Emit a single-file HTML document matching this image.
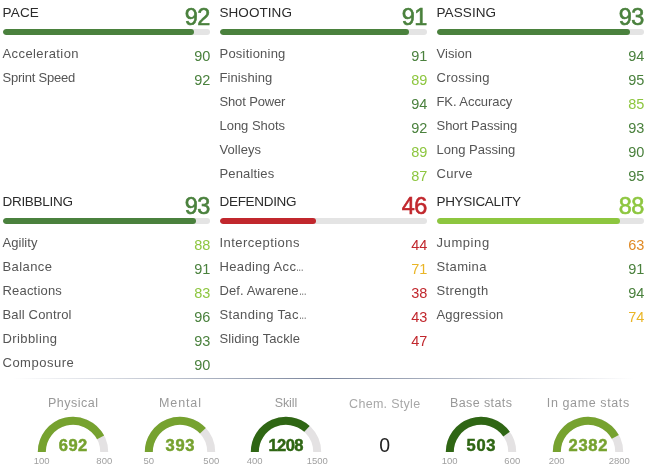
<!DOCTYPE html>
<html><head><meta charset="utf-8"><style>
html,body{margin:0;padding:0;background:#fff;}
body{width:647px;height:472px;position:relative;overflow:hidden;font-family:"Liberation Sans",sans-serif;}
.blk{position:absolute;width:213px;height:189px;}
.hd{position:absolute;left:2.5px;top:4.5px;font-size:13.5px;color:#2b2b2b;white-space:nowrap;}
.big{position:absolute;right:3.6px;top:3px;font-size:23.5px;line-height:28px;letter-spacing:-0.8px;-webkit-text-stroke:0.6px currentColor;}
.bar{position:absolute;left:3px;right:3px;top:29px;height:6px;border-radius:3px;background:#e4e4e4;overflow:hidden;}
.bar i{display:block;height:6px;border-radius:3px;}
.row{position:absolute;left:2.5px;right:3px;height:24px;line-height:24px;font-size:13px;color:#555;white-space:nowrap;}
.el{display:inline-block;transform:scaleX(.58);transform-origin:0 50%;}
.row .v{position:absolute;right:0;top:1.5px;font-size:14.5px;letter-spacing:-0.2px;}
.sep{position:absolute;left:0;right:0;top:378px;height:1px;background:linear-gradient(90deg,rgba(122,133,156,0) 2%,rgba(122,133,156,1) 50%,rgba(122,133,156,0) 98%);}
svg{position:absolute;left:0;top:0;}
.gt{font-size:12.5px;fill:#999;text-anchor:middle;}
.gc{fill:#a8a8a8;}
.gv{font-size:16.5px;font-weight:bold;text-anchor:middle;}
.gz{font-size:19.5px;fill:#222;text-anchor:middle;}
.gm{font-size:9.5px;fill:#a0a0a0;text-anchor:middle;}
</style></head><body>
<div class="blk" style="left:0px;top:0px">
<div class="hd" style="letter-spacing:0.200px;">PACE</div><div class="big" style="color:#4a813d">92</div>
<div class="bar"><i style="width:calc(92% + 0.5px);background:#4a813d"></i></div>
<div class="row" style="top:42px"><span class="l" style="letter-spacing:0.409px;">Acceleration</span><span class="v" style="color:#4a813d">90</span></div>
<div class="row" style="top:66px"><span class="l" style="letter-spacing:-0.227px;">Sprint Speed</span><span class="v" style="color:#4a813d">92</span></div>
</div>
<div class="blk" style="left:217px;top:0px">
<div class="hd" style="letter-spacing:0.057px;">SHOOTING</div><div class="big" style="color:#4a813d">91</div>
<div class="bar"><i style="width:calc(91% + 0.5px);background:#4a813d"></i></div>
<div class="row" style="top:42px"><span class="l" style="letter-spacing:0.225px;">Positioning</span><span class="v" style="color:#4a813d">91</span></div>
<div class="row" style="top:66px"><span class="l" style="letter-spacing:0.094px;">Finishing</span><span class="v" style="color:#8dc63f">89</span></div>
<div class="row" style="top:90px"><span class="l" style="letter-spacing:-0.139px;">Shot Power</span><span class="v" style="color:#4a813d">94</span></div>
<div class="row" style="top:114px"><span class="l" style="letter-spacing:-0.028px;">Long Shots</span><span class="v" style="color:#4a813d">92</span></div>
<div class="row" style="top:138px"><span class="l" style="letter-spacing:0.042px;">Volleys</span><span class="v" style="color:#8dc63f">89</span></div>
<div class="row" style="top:162px"><span class="l" style="letter-spacing:0.156px;">Penalties</span><span class="v" style="color:#8dc63f">87</span></div>
</div>
<div class="blk" style="left:434px;top:0px">
<div class="hd" style="letter-spacing:0.092px;">PASSING</div><div class="big" style="color:#4a813d">93</div>
<div class="bar"><i style="width:calc(93% + 0.5px);background:#4a813d"></i></div>
<div class="row" style="top:42px"><span class="l" style="letter-spacing:0.050px;">Vision</span><span class="v" style="color:#4a813d">94</span></div>
<div class="row" style="top:66px"><span class="l" style="letter-spacing:0.250px;">Crossing</span><span class="v" style="color:#4a813d">95</span></div>
<div class="row" style="top:90px"><span class="l" style="letter-spacing:-0.068px;">FK. Accuracy</span><span class="v" style="color:#8dc63f">85</span></div>
<div class="row" style="top:114px"><span class="l" style="letter-spacing:-0.021px;">Short Passing</span><span class="v" style="color:#4a813d">93</span></div>
<div class="row" style="top:138px"><span class="l" style="letter-spacing:-0.000px;">Long Passing</span><span class="v" style="color:#4a813d">90</span></div>
<div class="row" style="top:162px"><span class="l" style="letter-spacing:0.312px;">Curve</span><span class="v" style="color:#4a813d">95</span></div>
</div>
<div class="blk" style="left:0px;top:189px">
<div class="hd" style="letter-spacing:-0.294px;">DRIBBLING</div><div class="big" style="color:#4a813d">93</div>
<div class="bar"><i style="width:calc(93% + 0.5px);background:#4a813d"></i></div>
<div class="row" style="top:42px"><span class="l" style="letter-spacing:0.042px;">Agility</span><span class="v" style="color:#8dc63f">88</span></div>
<div class="row" style="top:66px"><span class="l" style="letter-spacing:0.417px;">Balance</span><span class="v" style="color:#4a813d">91</span></div>
<div class="row" style="top:90px"><span class="l" style="letter-spacing:0.188px;">Reactions</span><span class="v" style="color:#8dc63f">83</span></div>
<div class="row" style="top:114px"><span class="l" style="letter-spacing:0.159px;">Ball Control</span><span class="v" style="color:#4a813d">96</span></div>
<div class="row" style="top:138px"><span class="l" style="letter-spacing:0.406px;">Dribbling</span><span class="v" style="color:#4a813d">93</span></div>
<div class="row" style="top:162px"><span class="l" style="letter-spacing:0.500px;">Composure</span><span class="v" style="color:#4a813d">90</span></div>
</div>
<div class="blk" style="left:217px;top:189px">
<div class="hd" style="letter-spacing:-0.313px;">DEFENDING</div><div class="big" style="color:#c1272d">46</div>
<div class="bar"><i style="width:calc(46% + 0.5px);background:#c1272d"></i></div>
<div class="row" style="top:42px"><span class="l" style="letter-spacing:0.458px;">Interceptions</span><span class="v" style="color:#c1272d">44</span></div>
<div class="row" style="top:66px"><span class="l" style="letter-spacing:0.345px;">Heading Acc<span class="el">…</span></span><span class="v" style="color:#eab526">71</span></div>
<div class="row" style="top:90px"><span class="l" style="letter-spacing:0.117px;">Def. Awarene<span class="el">…</span></span><span class="v" style="color:#c1272d">38</span></div>
<div class="row" style="top:114px"><span class="l" style="letter-spacing:0.367px;">Standing Tac<span class="el">…</span></span><span class="v" style="color:#c1272d">43</span></div>
<div class="row" style="top:138px"><span class="l" style="letter-spacing:0.096px;">Sliding Tackle</span><span class="v" style="color:#c1272d">47</span></div>
</div>
<div class="blk" style="left:434px;top:189px">
<div class="hd" style="letter-spacing:-0.320px;">PHYSICALITY</div><div class="big" style="color:#8dc63f">88</div>
<div class="bar"><i style="width:calc(88% + 0.5px);background:#8dc63f"></i></div>
<div class="row" style="top:42px"><span class="l" style="letter-spacing:0.583px;">Jumping</span><span class="v" style="color:#e08a25">63</span></div>
<div class="row" style="top:66px"><span class="l" style="letter-spacing:0.375px;">Stamina</span><span class="v" style="color:#4a813d">91</span></div>
<div class="row" style="top:90px"><span class="l" style="letter-spacing:0.357px;">Strength</span><span class="v" style="color:#4a813d">94</span></div>
<div class="row" style="top:114px"><span class="l" style="letter-spacing:0.194px;">Aggression</span><span class="v" style="color:#eab526">74</span></div>
</div>
<div class="sep"></div>
<svg width="647" height="472" viewBox="0 0 647 472" font-family="Liberation Sans, sans-serif">
<path d="M41.80 452.00 A31.2 31.2 0 0 1 104.20 452.00" stroke="#e4e2e3" stroke-width="8" fill="none"/>
<path d="M41.80 452.00 A31.2 31.2 0 0 1 100.61 437.46" stroke="#76a22f" stroke-width="8" fill="none"/>
<text x="73.25" y="406.7" class="gt" style="letter-spacing:0.507px;">Physical</text>
<text x="73.26" y="451" class="gv" fill="#76a22f" stroke="#76a22f" stroke-width="0.5" style="letter-spacing:0.525px;">692</text>
<text x="41.7" y="464" class="gm">100</text>
<text x="104.3" y="464" class="gm">800</text>
<path d="M148.80 452.00 A31.2 31.2 0 0 1 211.20 452.00" stroke="#e4e2e3" stroke-width="8" fill="none"/>
<path d="M148.80 452.00 A31.2 31.2 0 0 1 202.89 430.80" stroke="#76a22f" stroke-width="8" fill="none"/>
<text x="180.44" y="406.7" class="gt" style="letter-spacing:0.870px;">Mental</text>
<text x="180.36" y="451" class="gv" fill="#76a22f" stroke="#76a22f" stroke-width="0.5" style="letter-spacing:0.725px;">393</text>
<text x="148.7" y="464" class="gm">50</text>
<text x="211.3" y="464" class="gm">500</text>
<path d="M254.80 452.00 A31.2 31.2 0 0 1 317.20 452.00" stroke="#e4e2e3" stroke-width="8" fill="none"/>
<path d="M254.80 452.00 A31.2 31.2 0 0 1 306.97 428.89" stroke="#2f6614" stroke-width="8" fill="none"/>
<text x="285.94" y="406.7" class="gt" style="letter-spacing:-0.125px;">Skill</text>
<text x="285.72" y="451" class="gv" fill="#2f6614" stroke="#2f6614" stroke-width="0.5" style="letter-spacing:-0.567px;">1208</text>
<text x="254.7" y="464" class="gm">400</text>
<text x="317.3" y="464" class="gm">1500</text>
<path d="M449.80 452.00 A31.2 31.2 0 0 1 512.20 452.00" stroke="#e4e2e3" stroke-width="8" fill="none"/>
<path d="M449.80 452.00 A31.2 31.2 0 0 1 506.58 434.14" stroke="#2f6614" stroke-width="8" fill="none"/>
<text x="481.19" y="406.7" class="gt" style="letter-spacing:0.389px;">Base stats</text>
<text x="481.33" y="451" class="gv" fill="#2f6614" stroke="#2f6614" stroke-width="0.5" style="letter-spacing:0.650px;">503</text>
<text x="449.7" y="464" class="gm">100</text>
<text x="512.3" y="464" class="gm">600</text>
<path d="M556.80 452.00 A31.2 31.2 0 0 1 619.20 452.00" stroke="#e4e2e3" stroke-width="8" fill="none"/>
<path d="M556.80 452.00 A31.2 31.2 0 0 1 615.30 436.90" stroke="#76a22f" stroke-width="8" fill="none"/>
<text x="588.30" y="406.7" class="gt" style="letter-spacing:0.608px;">In game stats</text>
<text x="588.37" y="451" class="gv" fill="#76a22f" stroke="#76a22f" stroke-width="0.5" style="letter-spacing:0.733px;">2382</text>
<text x="556.7" y="464" class="gm">200</text>
<text x="619.3" y="464" class="gm">2800</text>
<text x="384.75" y="408.3" class="gt gc" style="letter-spacing:0.290px;">Chem. Style</text>
<text x="384.6" y="452" class="gz">0</text>
</svg>
</body></html>
